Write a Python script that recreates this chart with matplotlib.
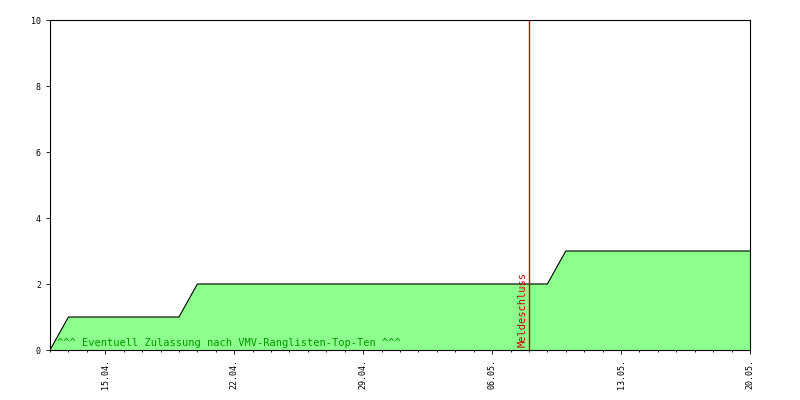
import matplotlib.pyplot as plt

# day index: 0 = 12.04.
days = [0, 1, 7, 8, 27, 28, 38]
values = [0, 1, 1, 2, 2, 3, 3]
tick_days = [3, 10, 17, 24, 31, 38]
tick_labels = ['15.04.', '22.04.', '29.04.', '06.05.', '13.05.', '20.05.']
deadline_day = 26

plt.rcParams['font.family'] = 'DejaVu Sans Mono'
fig = plt.figure(figsize=[8, 4], dpi=100)
ax = fig.add_axes([50/800, 50/400, 700/800, 330/400])

ax.fill_between(days, values, color='#8cff8c')
ax.plot(days, values, color='black', lw=0.8)
ax.axvline(deadline_day, color='#cc0000', lw=1)
ax.text(deadline_day - 0.35, 0.1, 'Meldeschluss', rotation=90, color='#cc0000',
        fontsize=7.5, ha='center', va='bottom')
ax.text(0.4, 0.05, '^^^ Eventuell Zulassung nach VMV-Ranglisten-Top-Ten ^^^',
        color='#009900', fontsize=7.5, va='bottom')

ax.set_xlim(0, 38)
ax.set_ylim(0, 10)
ax.set_xticks(tick_days)
ax.set_xticklabels(tick_labels, rotation=90, fontsize=6)
ax.set_xticks(range(0, 39), minor=True)
ax.set_yticks(range(0, 11, 2))
ax.tick_params(axis='y', labelsize=6)
ax.tick_params(length=3, width=0.6)
ax.tick_params(which='minor', length=1.5, width=0.6)
for s in ax.spines.values():
    s.set_linewidth(0.8)

fig.savefig('out.png')
